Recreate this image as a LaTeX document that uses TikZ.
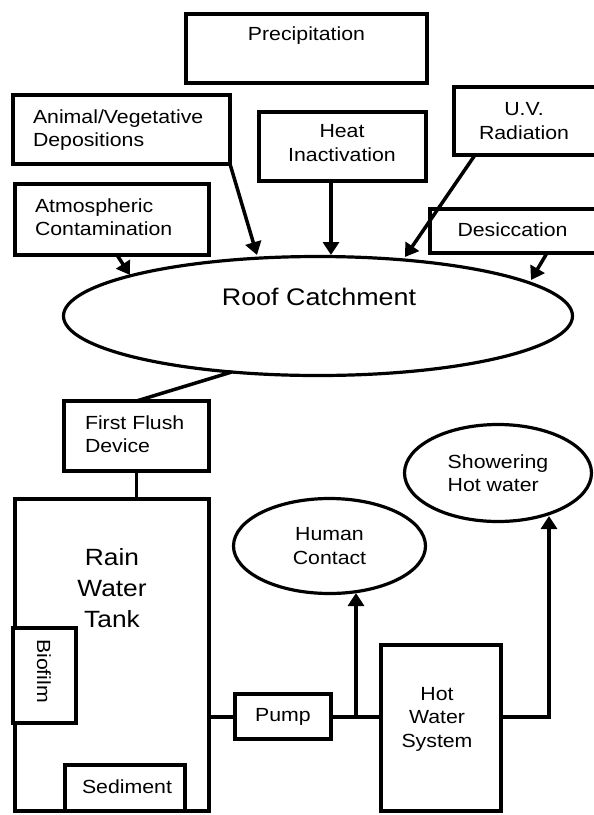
\documentclass[tikz,border=0pt]{standalone}
\usepackage{fontspec}
\setmainfont{Liberation Sans}[FakeStretch=1.12]
\usetikzlibrary{shapes.geometric,arrows.meta,calc}
\newcommand{\nsz}{\fontsize{19}{23.5}\selectfont}
\newcommand{\bsz}{\fontsize{24}{28}\selectfont}
\newcommand{\tsz}{\fontsize{23.5}{31}\selectfont}
\begin{document}
\begin{tikzpicture}[x=1pt,y=-1pt,
 box/.style={draw, line width=4pt, fill=white, inner sep=0pt, outer sep=0pt, font=\nsz, align=center},
 ell/.style={draw, ellipse, line width=3.2pt, fill=white, inner sep=0pt, outer sep=0pt, font=\nsz, align=center},
 txt/.style={inner sep=0pt, outer sep=0pt, font=\nsz},
 conn/.style={line width=3.5pt},
 arr/.style={conn, -{Triangle[width=16pt,length=13pt]}}]
\useasboundingbox (0,0) rectangle (594,815);
\clip (0,0) rectangle (594,815);

% top boxes
\node[box, minimum width=241pt, minimum height=69pt] (prec) at (306.5,48.5) {};
\node[txt, anchor=base] (precT) at (306.5,40) {Precipitation};

\node[box, minimum width=217pt, minimum height=69pt] (anim) at (121.5,129.5) {};
\node[txt, align=left, anchor=west] (animT) at (33,130) {Animal/Vegetative\\Depositions};

\node[box, minimum width=194pt, minimum height=71pt] (atm) at (112,219.5) {};
\node[txt, align=left, anchor=west] (atmT) at (35,217) {Atmospheric\\Contamination};

\node[box, minimum width=167pt, minimum height=69pt] (heat) at (342.5,146.5) {};
\node[txt, align=center] (heatT) at (342,143) {Heat\\Inactivation};

\node[box, minimum width=142pt, minimum height=68pt] (uv) at (525,121) {};
\node[txt, align=center] (uvT) at (524,121) {U.V.\\Radiation};

\node[box, minimum width=166pt, minimum height=44pt] (desic) at (513,231) {};
\node[txt] (desicT) at (512.5,229.5) {Desiccation};

% roof
\node[ell, minimum width=509pt, minimum height=119pt] (roof) at (318,316) {};
\node[txt, font=\bsz, anchor=base] (roofT) at (319,305) {Roof Catchment};

% first flush
\node[box, minimum width=145pt, minimum height=70pt] (ff) at (136.5,436) {};
\node[txt, align=left, anchor=west] (ffT) at (85,434) {First Flush\\Device};

% tank
\node[box, minimum width=194pt, minimum height=312pt] (tank) at (112,655) {};
\node[txt, font=\tsz, align=center] (tankT) at (112,588) {Rain\\Water\\Tank};
\node[box, minimum width=63pt, minimum height=95pt] (bio) at (44.5,675.5) {};
\node[txt, rotate=-90] (bioT) at (44,671) {Biofilm};
\node[box, minimum width=120pt, minimum height=46pt] (sed) at (125,788) {};
\node[txt] (sedT) at (127,786.5) {Sediment};

% pump, hot water
\node[box, minimum width=96pt, minimum height=45pt] (pump) at (283,716.5) {Pump};
\node[box, minimum width=120pt, minimum height=166pt] (hws) at (441,728) {};
\node[txt, align=center] (hwsT) at (437,719) {Hot\\Water\\System};

\node[ell, minimum width=192pt, minimum height=95pt] (human) at (329.5,546) {Human\\Contact};
\node[ell, align=left, minimum width=187pt, minimum height=97pt] (shower) at (498,473) {Showering\\Hot water};

% connectors
\coordinate (tAtm) at (130,275);
\coordinate (tAnim) at (257,255);
\coordinate (tHeat) at (331,255);
\coordinate (tUV) at (405,257);
\coordinate (tDes) at (531,280);
\draw[arr] ($(atm.south)+(5,0)$) -- (tAtm);
\draw[arr] (anim.south east) -- (tAnim);
\draw[arr] (heat.south -| tHeat) -- (tHeat);
\draw[arr] ($(uv.south west)+(21,0)$) -- (tUV);
\draw[arr] ($(desic.south)+(34,0)$) -- (tDes);

\draw[conn] (roof.213.8) -- (ff.north);
\draw[conn] (ff.south) -- (ff.south |- tank.north);

\coordinate (br) at (356,717);
\coordinate (tHum) at (356,593);
\coordinate (tSh) at (549,516);
\draw[conn] (tank.east |- br) -- (pump.west |- br);
\draw[conn] (pump.east |- br) -- (hws.west |- br);
\draw[arr] (br) -- (tHum);
\draw[arr] (hws.east |- br) -| (tSh);
\end{tikzpicture}
\end{document}
